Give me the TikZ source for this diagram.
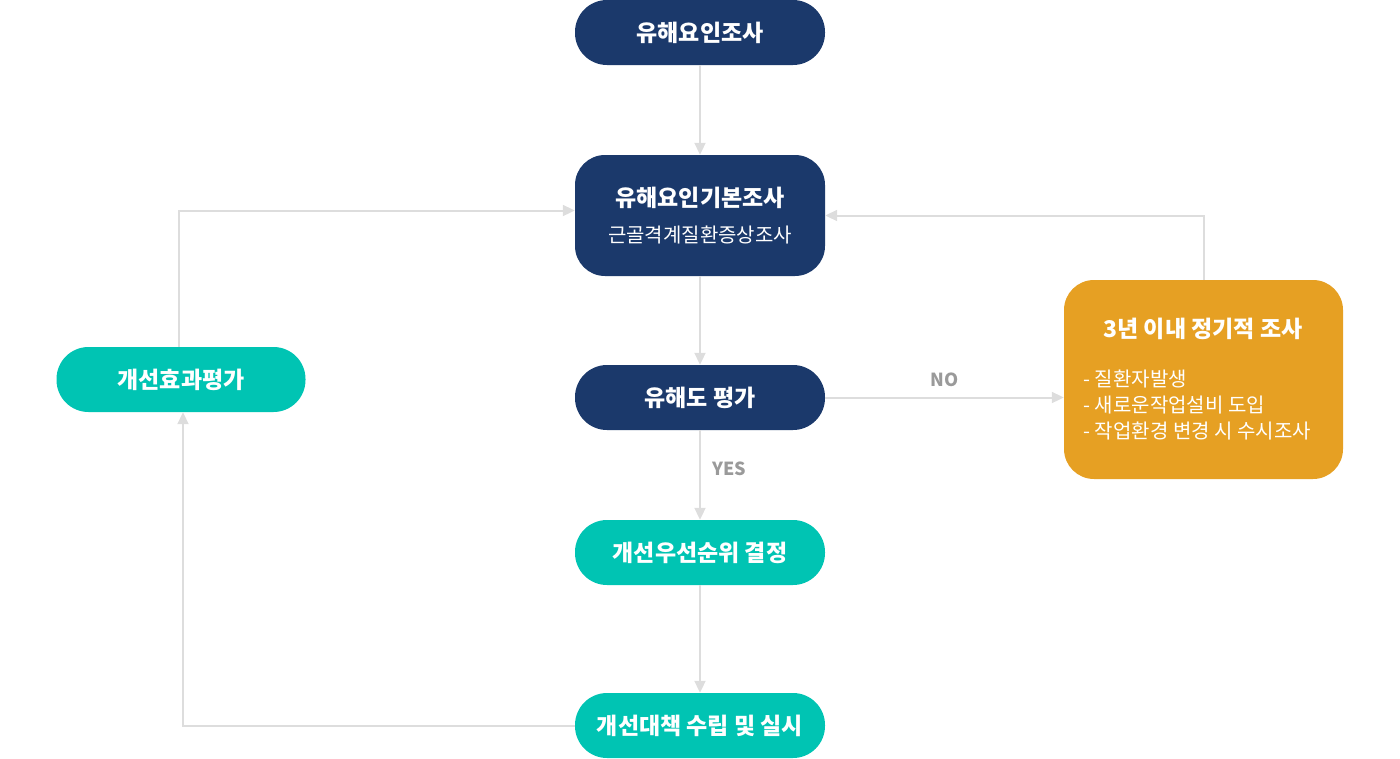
\documentclass[tikz,border=0pt]{standalone}
\usepackage{fontspec}
\setmainfont{Noto Sans CJK KR}
\usetikzlibrary{arrows.meta}
\definecolor{navy}{HTML}{1B396B}
\definecolor{mint}{HTML}{00C4B3}
\definecolor{amber}{HTML}{E6A023}
\definecolor{linegray}{HTML}{DDDDDD}
\definecolor{labelgray}{HTML}{9A9A9A}
\tikzstyle{navynode}=[fill=navy, text=white, rounded corners=32, minimum width=250, minimum height=65, font=\fontsize{23}{27}\selectfont\bfseries]
\tikzstyle{mintnode}=[navynode, fill=mint]
\tikzstyle{flow}=[linegray, line width=2, -{Triangle[width=11pt,length=12pt]}]
\tikzstyle{flowlabel}=[text=labelgray, font=\fontsize{18}{20}\selectfont\bfseries]

\begin{document}
\begin{tikzpicture}[x=1pt, y=-1pt]
  \useasboundingbox (0,0) rectangle (1400,758);
  \node[navynode] (survey) at (700,32.5) {유해요인조사};
  \node[navynode, rounded corners=30, minimum height=121, align=center] (basic) at (700,215.5)
    {유해요인기본조사\\[9pt]{\fontsize{20}{24}\selectfont\mdseries 근골격계질환증상조사}};
  \node[navynode] (grade) at (700,397.5) {유해도 평가};
  \node[mintnode] (priority) at (700,552.5) {개선우선순위 결정};
  \node[mintnode] (measure) at (700,725.5) {개선대책 수립 및 실시};
  \node[mintnode, minimum width=249] (effect) at (181,379.5) {개선효과평가};
  \node[fill=amber, rounded corners=30, minimum width=279, minimum height=199] (periodic) at (1203.5,379.5) {};
  \node[text=white, font=\fontsize{23}{27}\selectfont\bfseries] (periodicttl) at (1203,329) {3년 이내 정기적 조사};
  \node[text=white, anchor=west, align=left, font=\fontsize{20}{26}\selectfont] (periodiclist) at (1080,405)
    {- 질환자발생\\- 새로운작업설비 도입\\- 작업환경 변경 시 수시조사};
  \draw[flow] (survey) -- (basic);
  \draw[flow] (basic) -- (grade);
  \draw[flow] (grade) -- node[flowlabel, right, xshift=8, yshift=6] {YES} (priority);
  \draw[flow] (priority) -- (measure);
  \draw[flow] (grade.east) -- node[flowlabel, above, yshift=6] {NO} (grade.east -| periodic.west);
  \draw[flow] (periodic.north) |- (basic.east);
  \draw[flow] (measure.west) -| ([xshift=2]effect.south);
  \draw[flow] ([xshift=-2]effect.north) |- ([yshift=5]basic.west);
\end{tikzpicture}
\end{document}
